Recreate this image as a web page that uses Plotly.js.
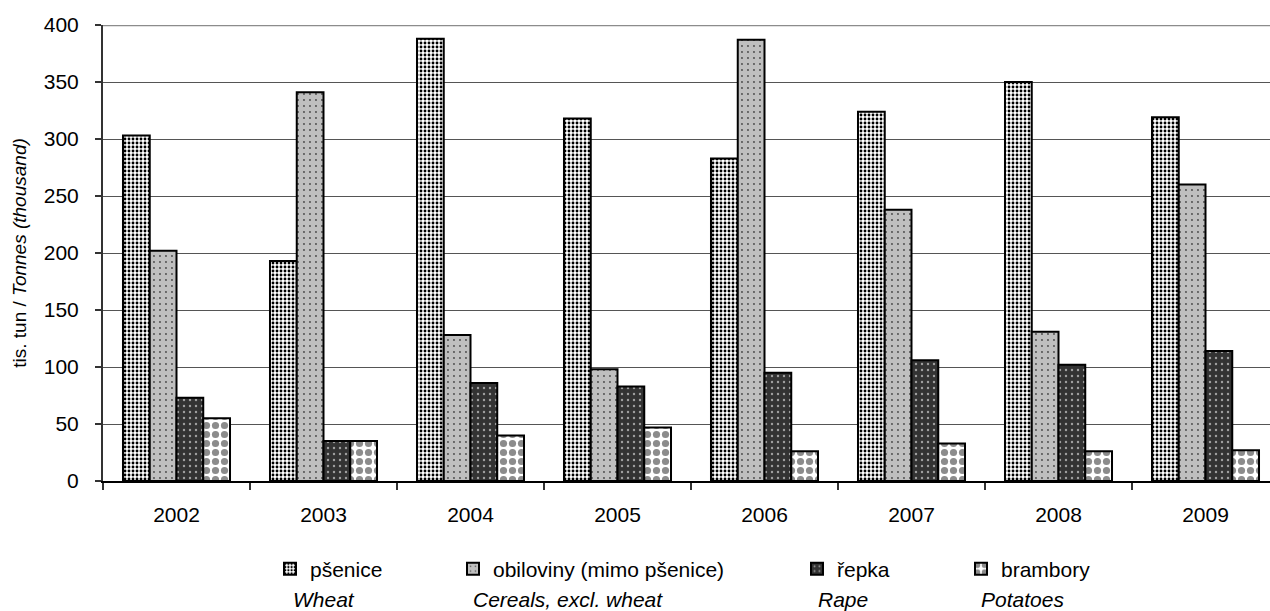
<!DOCTYPE html>
<html>
<head>
<meta charset="utf-8">
<script src="https://cdn.plot.ly/plotly-3.0.1.min.js"></script>
<style>html,body{margin:0;padding:0;background:#fff;}#chart{width:1270px;height:611px;}</style>
</head>
<body>
<div id="chart"></div>
<script>
const years = ["2002","2003","2004","2005","2006","2007","2008","2009"];
const wheat = [303, 193, 388, 318, 283, 324, 350, 319];
const cereals = [202, 341, 128, 98, 387, 238, 131, 260];
const rape = [73, 35, 86, 83, 95, 106, 102, 114];
const potatoes = [55, 35, 40, 47, 26, 33, 26, 27];
const namesCz = ["pšenice", "obiloviny (mimo pšenice)", "řepka", "brambory"];
const namesEn = ["Wheat", "Cereals, excl. wheat", "Rape", "Potatoes"];
const yTicks = [0, 50, 100, 150, 200, 250, 300, 350, 400];

const FONT = "Liberation Sans, Arial, sans-serif";
const L = 103, R = 1270, T = 25, B = 481;
const W = 1270, H = 611;
const CAT = 147;
const px2x = p => (p - L) / (R - L);
const px2y = p => (B - p) / (B - T);

const styles = [
  {bg: "#ffffff", fg: "#000000", shape: ".", size: 4, solidity: 0.4},
  {bg: "#bfbfbf", fg: "#4a4a4a", shape: ".", size: 6, solidity: 0.08},
  {bg: "#333333", fg: "#a0a0a0", shape: ".", size: 6, solidity: 0.12},
  {bg: "#ffffff", fg: "#8c8c8c", shape: ".", size: 9, solidity: 0.5}
];
const series = [wheat, cereals, rape, potatoes];
const legendTextX = [310, 493, 837, 1001];
const enX = [291, 471, 816, 979];
const legendIds = ["legend", "legend2", "legend3", "legend4"];

const data = series.map((vals, i) => ({
  type: "bar",
  x: years,
  y: vals,
  name: namesCz[i],
  legend: legendIds[i],
  marker: {
    color: styles[i].bg,
    line: {color: "#000000", width: 2},
    pattern: {shape: styles[i].shape, fgcolor: styles[i].fg, bgcolor: styles[i].bg,
              size: styles[i].size, solidity: styles[i].solidity, fillmode: "replace"}
  },
  hoverinfo: "x+y"
}));

const layout = {
  width: W, height: H,
  margin: {l: L, r: W - R, t: T, b: H - B, pad: 0},
  paper_bgcolor: "#ffffff",
  plot_bgcolor: "#ffffff",
  font: {family: FONT, size: 21, color: "#000000"},
  barmode: "group",
  bargap: 0.272,
  bargroupgap: 0,
  xaxis: {
    type: "category",
    range: [-0.5, -0.5 + (R - L) / CAT],
    showline: true, linecolor: "#000000", linewidth: 2,
    ticks: "outside", tickson: "boundaries", ticklen: 7, tickcolor: "#333333", tickwidth: 1.5,
    ticklabelstandoff: 14,
    tickfont: {family: FONT, size: 21},
    showgrid: false, zeroline: false
  },
  yaxis: {
    range: [0, 400],
    tickvals: yTicks,
    showline: true, linecolor: "#333333", linewidth: 2,
    ticks: "outside", ticklen: 6, tickcolor: "#333333", tickwidth: 1.5,
    ticklabelstandoff: 12,
    showgrid: true, gridcolor: "#555555", gridwidth: 1,
    zeroline: false,
    tickfont: {family: FONT, size: 21},
    title: {text: "tis. tun / <i>Tonnes (thousand)</i>", font: {family: FONT, size: 19}, standoff: 12}
  },
  shapes: [{type: "line", xref: "paper", yref: "y", x0: 0, x1: 1, y0: 400, y1: 400,
            line: {color: "#8c8c8c", width: 2.5}, layer: "above"}],
  showlegend: true,
  annotations: namesEn.map((t, i) => ({
    text: "<i>" + t + "</i>", xref: "paper", yref: "paper",
    x: px2x(enX[i]), y: px2y(600), xanchor: "left", yanchor: "middle",
    showarrow: false, font: {family: FONT, size: 21}
  }))
};
legendIds.forEach((id, i) => {
  layout[id] = {
    x: px2x(legendTextX[i] - 40), y: px2y(569), xanchor: "left", yanchor: "middle",
    orientation: "h", bgcolor: "rgba(0,0,0,0)", font: {family: FONT, size: 21},
    itemwidth: 30
  };
});

Plotly.newPlot("chart", data, layout, {displayModeBar: false, staticPlot: true});
</script>
</body>
</html>
